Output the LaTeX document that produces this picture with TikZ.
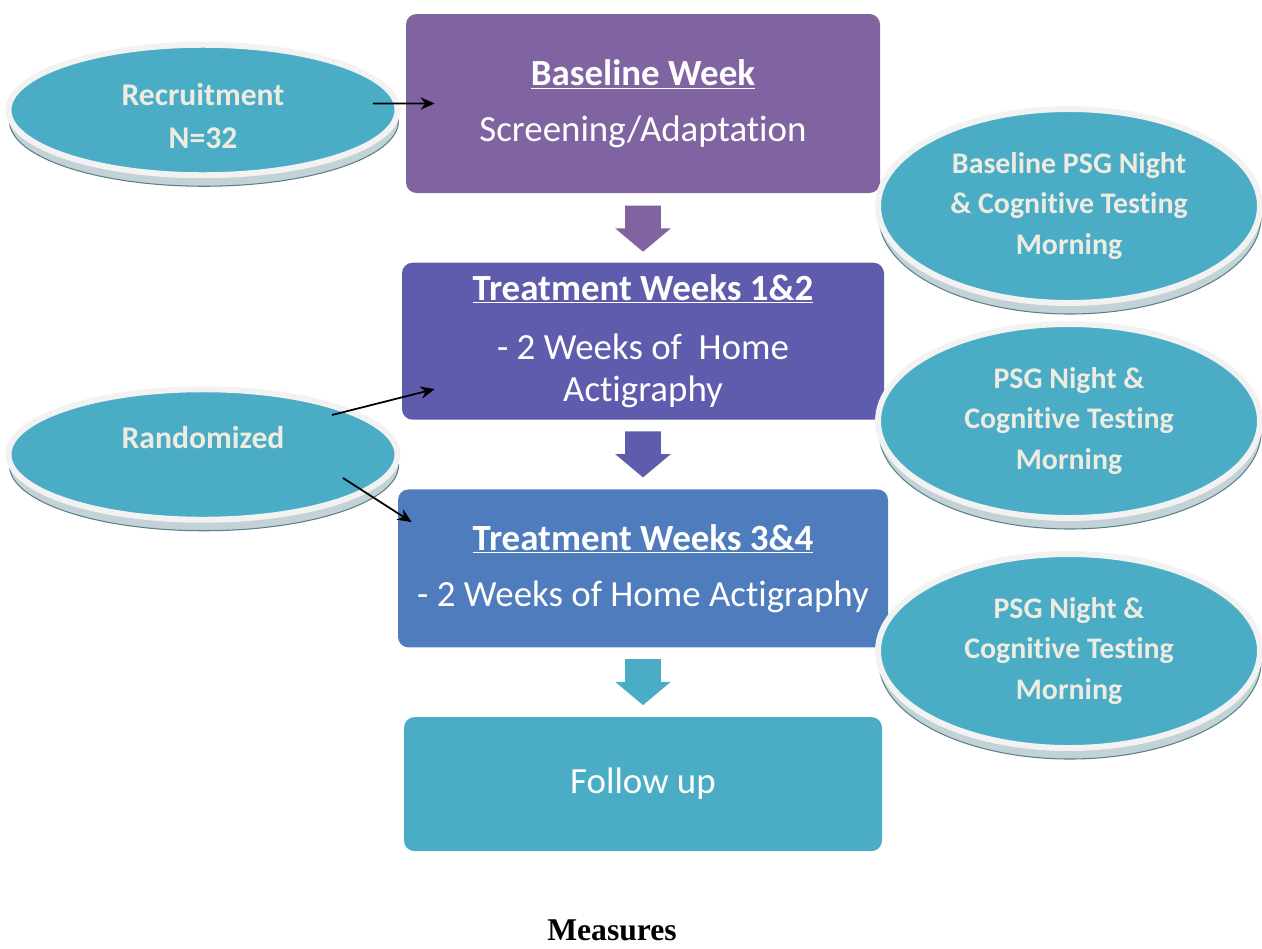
\documentclass[tikz,border=0pt]{standalone}
\usepackage{fontspec}
\setmainfont{Carlito}[Ligatures=NoCommon]
\newfontfamily\serifbold{Liberation Serif}
\usetikzlibrary{positioning, arrows.meta, shapes.geometric, shapes.arrows, shadows, calc}

\definecolor{basepurple}{HTML}{8064A2}
\definecolor{treatviolet}{HTML}{5F5BAD}
\definecolor{treatblue}{HTML}{4F7CBD}
\definecolor{aqua}{HTML}{4BACC6}
\definecolor{cream}{HTML}{EEECE1}
\definecolor{ringgray}{HTML}{F2F2F2}
\definecolor{rimfill}{HTML}{C2D2D7}
\definecolor{rimline}{HTML}{5A808B}

\begin{document}
\begin{tikzpicture}[>={Stealth[length=8pt, width=7pt]}, node distance = 1.38cm,
    phase/.style = {rectangle, rounded corners=6pt, text=white, align=center,
      font=\fontsize{21}{24}\selectfont, inner sep=2pt},
    oval/.style = {ellipse, fill=aqua, draw=ringgray, line width=3.4pt,
      copy shadow={shadow xshift=0.02cm, shadow yshift=-0.22cm, fill=rimfill, draw=rimline, line width=0.6pt},
      text=cream, align=center, font=\bfseries\fontsize{17}{23}\selectfont},
    ovaltext/.style = {text=cream, align=center, font=\bfseries\fontsize{18}{24.5}\selectfont},
    down/.style = {single arrow, shape border rotate=270, minimum width=1.1cm,
      minimum height=0.92cm, single arrow head extend=0.2cm, single arrow tip angle=100,
      inner xsep=0.35cm, inner ysep=0pt, anchor=tail}
  ]
  \useasboundingbox (0,0) rectangle (25.24,-18.96);

  % phases
  \node[phase, fill=basepurple, minimum width=9.48cm, minimum height=3.58cm] (base) at (12.86,-2.07)
    {\textbf{\underline{Baseline Week}}\\[8pt] Screening/Adaptation};
  \node[phase, fill=treatviolet, minimum width=9.64cm, minimum height=3.14cm] (treat1) [below = of base]
    {\textbf{\underline{Treatment Weeks 1\&2}}\\[10pt] - 2 Weeks of~ Home\\ Actigraphy};
  \node[phase, fill=treatblue, minimum width=9.8cm, minimum height=3.16cm] (treat2) [below = of treat1]
    {\textbf{\underline{Treatment Weeks 3\&4}}\\[8pt] - 2 Weeks of Home Actigraphy};
  \node[phase, fill=aqua, minimum width=9.56cm, minimum height=2.68cm] (follow) [below = of treat2]
    {Follow up};

  \node[down, fill=basepurple] (a1) at ([yshift=-0.24cm]base.south) {};
  \node[down, fill=treatviolet] (a2) at ([yshift=-0.22cm]treat1.south) {};
  \node[down, fill=aqua] (a3) at ([yshift=-0.22cm]treat2.south) {};

  % ovals
  \node[oval, minimum width=7.78cm, minimum height=2.61cm] (rec) at (4.06,-2.2) {};
  \node[ovaltext] (rectxt) at ([yshift=-0.12cm]rec.center) {Recruitment\\N=32};
  \node[oval, minimum width=7.78cm, minimum height=2.61cm] (rand) at (4.06,-9.09) {};
  \node[ovaltext] (randtxt) at ([yshift=0.34cm]rand.center) {Randomized};

  \node[oval, minimum width=7.64cm, minimum height=3.88cm] (psg1) at (21.38,-4.12)
    {Baseline PSG Night\\\& Cognitive Testing\\Morning};
  \node[oval, minimum width=7.64cm, minimum height=3.88cm] (psg2) at (21.38,-8.42)
    {PSG Night \&\\Cognitive Testing\\Morning};
  \node[oval, minimum width=7.64cm, minimum height=3.88cm] (psg3) at (21.38,-13.02)
    {PSG Night \&\\Cognitive Testing\\Morning};

  \draw[->, line width=1pt] ([xshift=-0.55cm, yshift=0.13cm]rec.east) -- ([xshift=0.58cm]base.west);
  \draw[->, line width=1pt] ([xshift=-1.37cm, yshift=0.79cm]rand.east) -- ([xshift=0.66cm, yshift=0.62cm]treat1.south west);
  \draw[->, line width=1pt] ([xshift=-1.15cm, yshift=-0.47cm]rand.east) -- ([xshift=0.28cm, yshift=-0.66cm]treat2.north west);

  \node[font=\serifbold\bfseries\fontsize{18}{20}\selectfont] (measures) at (12.24,-18.6) {Measures};
\end{tikzpicture}
\end{document}
